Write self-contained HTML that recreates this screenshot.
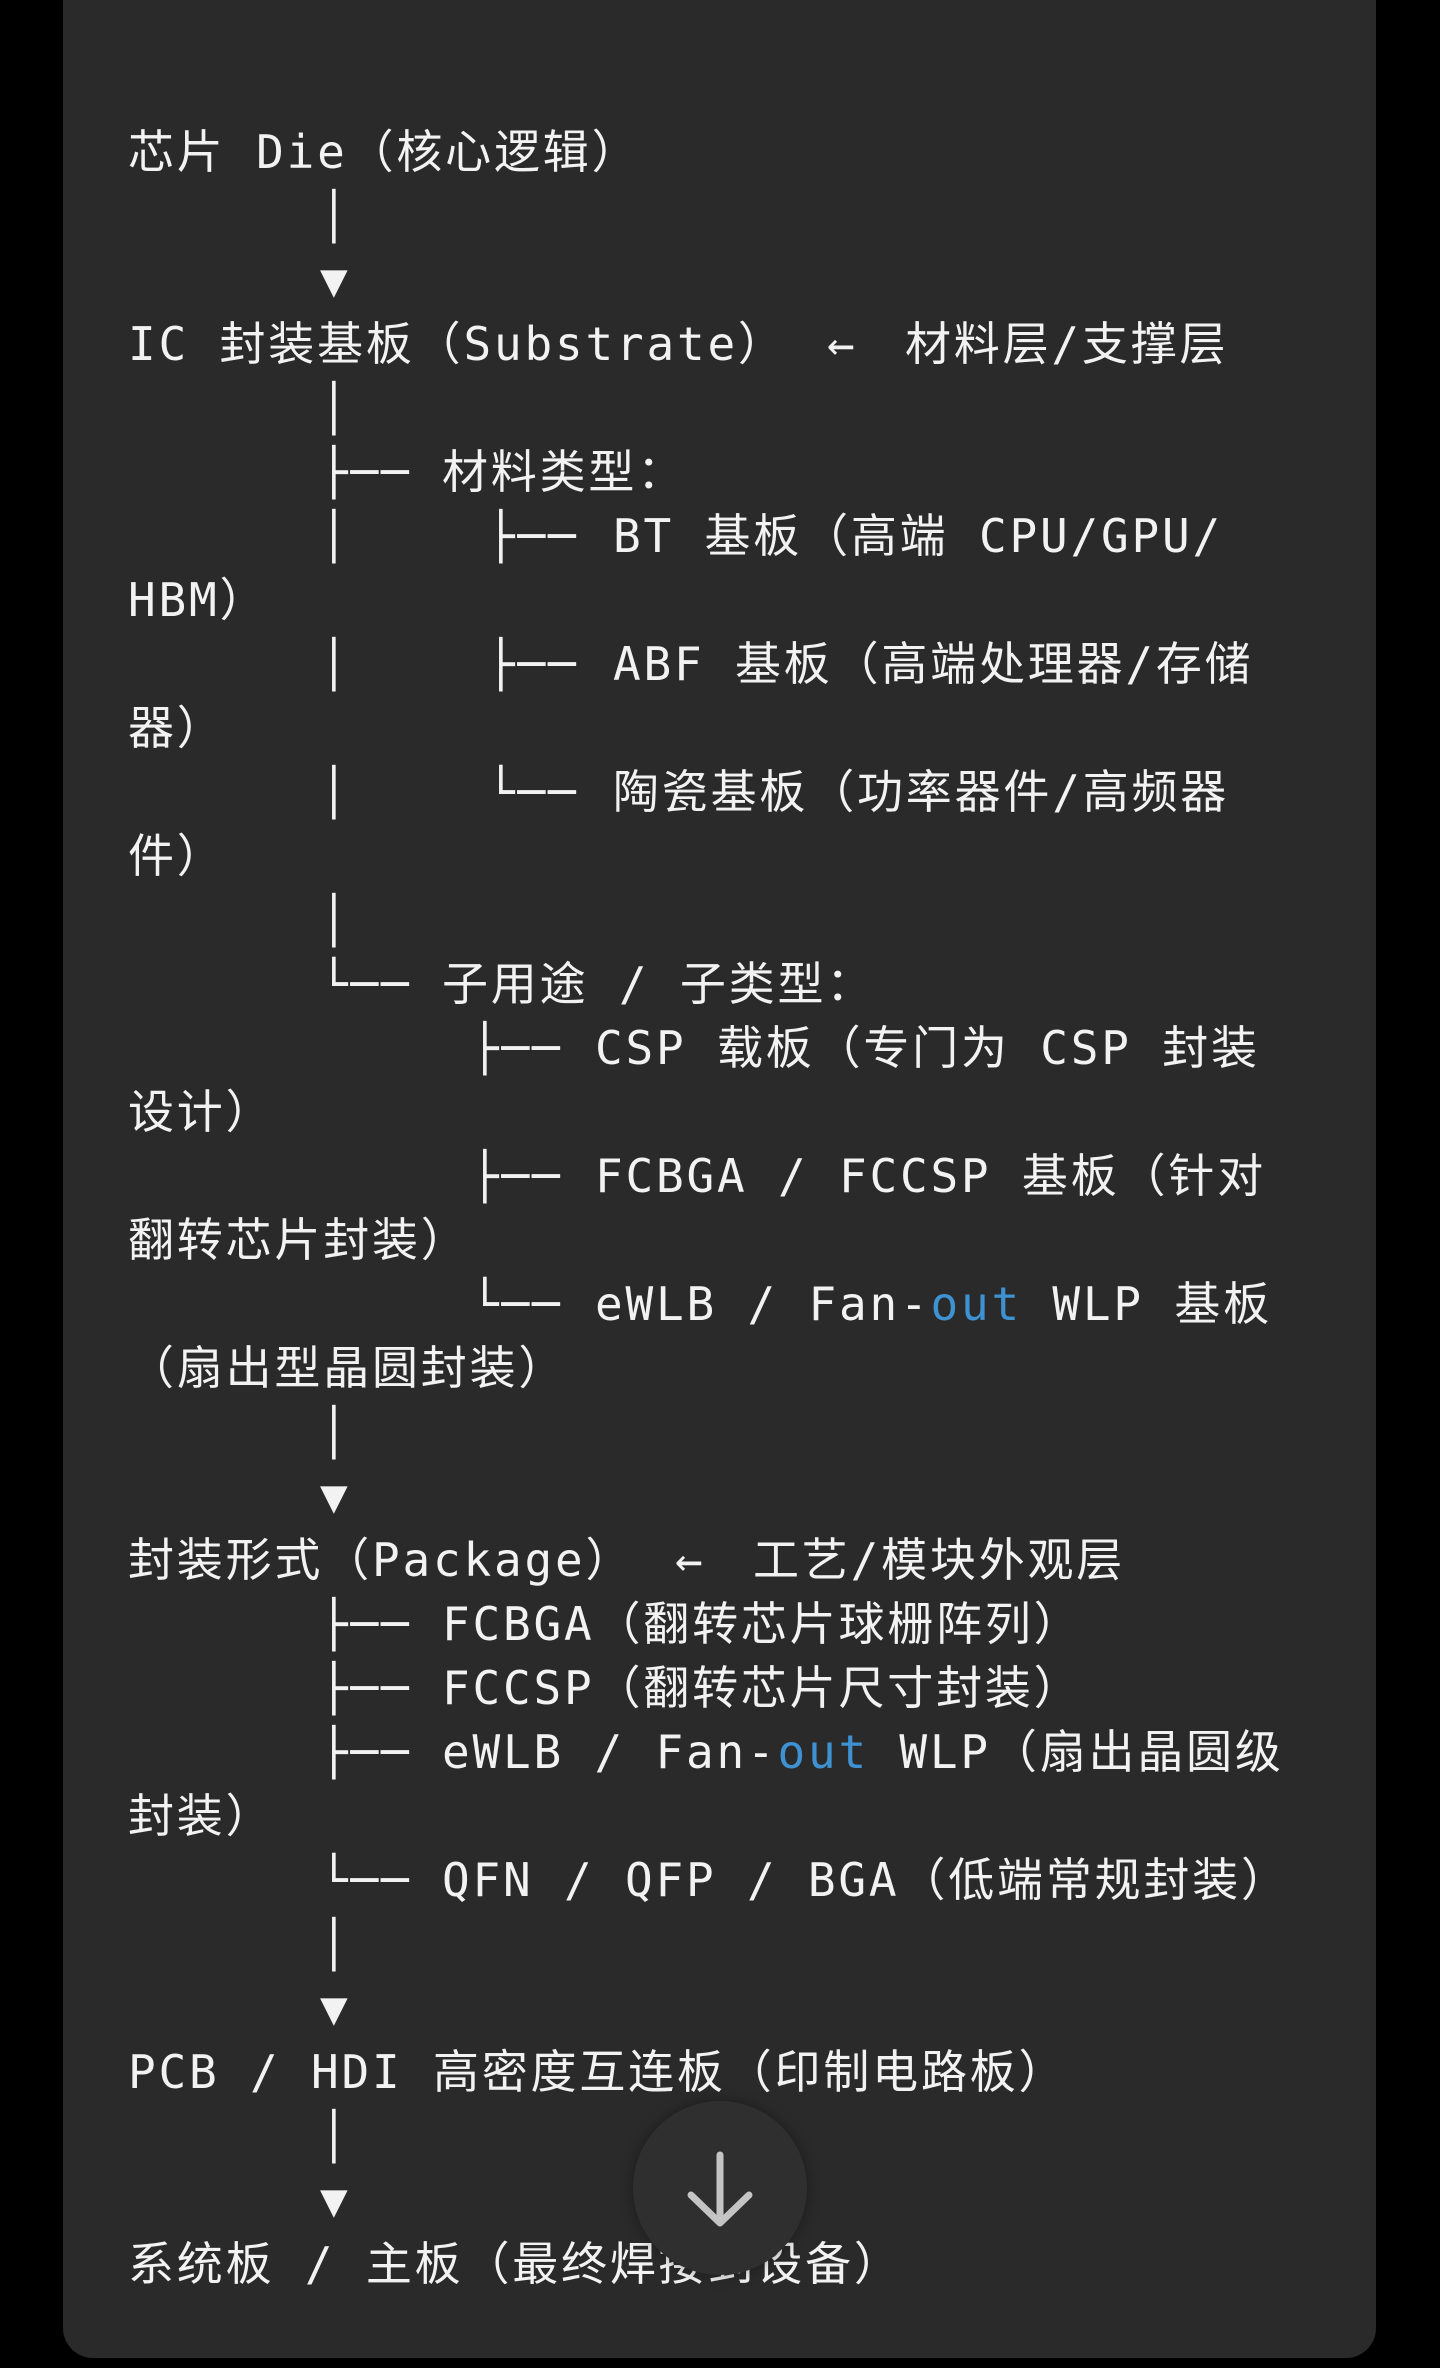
<!DOCTYPE html>
<html><head><meta charset="utf-8">
<style>
html,body{margin:0;padding:0;background:#000;}
body{width:1440px;height:2368px;position:relative;overflow:hidden;}
#panel{position:absolute;left:63px;top:-40px;width:1313px;height:2398px;background:#2a2a2a;border-radius:30px;}
.l{position:absolute;height:64px;line-height:64px;white-space:pre;color:#f2f2f2;
font-family:"DejaVu Sans Mono","Liberation Mono","Noto Sans CJK SC",monospace;font-size:46px;letter-spacing:2.8px;}
.b{color:#3f92d2;}
#btn{position:absolute;left:633px;top:2101px;width:174px;height:174px;border-radius:50%;background:#2f2f2f;box-shadow:0 0 14px rgba(0,0,0,0.35);}
</style></head><body>
<div id="panel"></div>

<div class="l" style="left:128px;top:120px">芯片 Die（核心逻辑）</div>
<div class="l" style="left:320px;top:184px">│</div>
<div class="l" style="left:320px;top:248px">▼</div>
<div class="l" style="left:128px;top:312px">IC 封装基板（Substrate）</div>
<div class="l" style="left:827px;top:312px">←</div>
<div class="l" style="left:905px;top:312px">材料层/支撑层</div>
<div class="l" style="left:320px;top:376px">│</div>
<div class="l" style="left:320px;top:440px">├──</div>
<div class="l" style="left:442px;top:440px">材料类型：</div>
<div class="l" style="left:320px;top:504px">│</div>
<div class="l" style="left:487px;top:504px">├──</div>
<div class="l" style="left:613px;top:504px">BT 基板（高端 CPU/GPU/</div>
<div class="l" style="left:128px;top:568px">HBM）</div>
<div class="l" style="left:320px;top:632px">│</div>
<div class="l" style="left:487px;top:632px">├──</div>
<div class="l" style="left:613px;top:632px">ABF 基板（高端处理器/存储</div>
<div class="l" style="left:128px;top:696px">器）</div>
<div class="l" style="left:320px;top:760px">│</div>
<div class="l" style="left:487px;top:760px">└──</div>
<div class="l" style="left:613px;top:760px">陶瓷基板（功率器件/高频器</div>
<div class="l" style="left:128px;top:824px">件）</div>
<div class="l" style="left:320px;top:888px">│</div>
<div class="l" style="left:320px;top:952px">└──</div>
<div class="l" style="left:442px;top:952px">子用途 / 子类型：</div>
<div class="l" style="left:471px;top:1016px">├──</div>
<div class="l" style="left:595px;top:1016px">CSP 载板（专门为 CSP 封装</div>
<div class="l" style="left:128px;top:1080px">设计）</div>
<div class="l" style="left:471px;top:1144px">├──</div>
<div class="l" style="left:595px;top:1144px">FCBGA / FCCSP 基板（针对</div>
<div class="l" style="left:128px;top:1208px">翻转芯片封装）</div>
<div class="l" style="left:471px;top:1272px">└──</div>
<div class="l" style="left:595px;top:1272px">eWLB / Fan-<span class="b">out</span> WLP 基板</div>
<div class="l" style="left:128px;top:1336px">（扇出型晶圆封装）</div>
<div class="l" style="left:320px;top:1400px">│</div>
<div class="l" style="left:320px;top:1464px">▼</div>
<div class="l" style="left:128px;top:1528px">封装形式（Package）</div>
<div class="l" style="left:675px;top:1528px">←</div>
<div class="l" style="left:753px;top:1528px">工艺/模块外观层</div>
<div class="l" style="left:320px;top:1592px">├──</div>
<div class="l" style="left:442px;top:1592px">FCBGA（翻转芯片球栅阵列）</div>
<div class="l" style="left:320px;top:1656px">├──</div>
<div class="l" style="left:442px;top:1656px">FCCSP（翻转芯片尺寸封装）</div>
<div class="l" style="left:320px;top:1720px">├──</div>
<div class="l" style="left:442px;top:1720px">eWLB / Fan-<span class="b">out</span> WLP（扇出晶圆级</div>
<div class="l" style="left:128px;top:1784px">封装）</div>
<div class="l" style="left:320px;top:1848px">└──</div>
<div class="l" style="left:442px;top:1848px">QFN / QFP / BGA（低端常规封装）</div>
<div class="l" style="left:320px;top:1912px">│</div>
<div class="l" style="left:320px;top:1976px">▼</div>
<div class="l" style="left:128px;top:2040px">PCB / HDI 高密度互连板（印制电路板）</div>
<div class="l" style="left:320px;top:2104px">│</div>
<div class="l" style="left:320px;top:2168px">▼</div>
<div class="l" style="left:128px;top:2232px">系统板 / 主板（最终焊接到设备）</div>

<div id="btn"></div>
<svg style="position:absolute;left:633px;top:2101px" width="174" height="174" viewBox="0 0 174 174">
<path d="M87 54 L87 120 M58 94 L87 122 L116 94" stroke="#c4c4c4" stroke-width="7" fill="none" stroke-linecap="round" stroke-linejoin="round"/>
</svg>
</body></html>
